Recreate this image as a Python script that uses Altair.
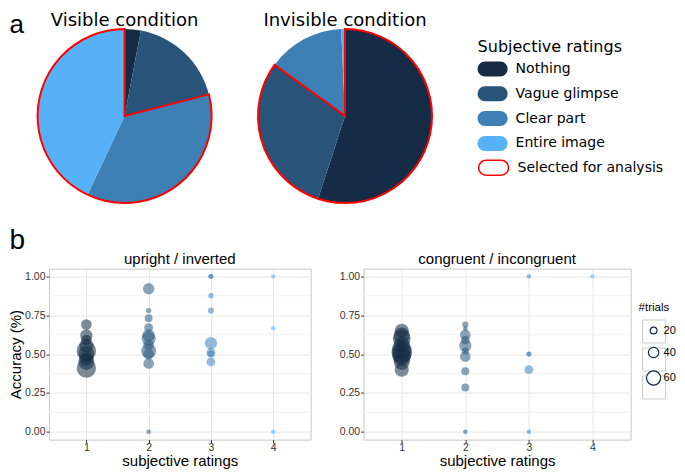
import math
import altair as alt
import pandas as pd

# ---------------- data ----------------
CATEGORIES = ["Nothing", "Vague glimpse", "Clear part", "Entire image"]
CAT_COLORS = ["#162B45", "#285479", "#3E7FB4", "#56B1F7"]
SELECT_LABEL = "Selected for analysis"

VISIBLE_PCT = [3.0, 18.0, 36.0, 43.0]
VISIBLE_SELECTED = [False, False, True, True]
INVISIBLE_PCT = [55.0, 30.0, 14.3, 0.7]
INVISIBLE_SELECTED = [True, True, False, False]

RATING_COLORS = ["#132B43", "#29587F", "#4084BB", "#56B1F7"]
X_TICKS = [1, 2, 3, 4]
Y_TICKS = [0.0, 0.25, 0.5, 0.75, 1.0]
MINOR_Y = [0.125, 0.375, 0.625, 0.875]
SIZE_VALUES = [20, 40, 60]

# upright / inverted
UI_RATING = [1, 1, 1, 1, 1, 1, 1, 1, 1,
             2, 2, 2, 2, 2, 2, 2, 2, 2, 2, 2,
             3, 3, 3, 3, 3, 3, 3, 3,
             4, 4, 4]
UI_ACC = [0.69, 0.62, 0.59, 0.555, 0.52, 0.50, 0.47, 0.45, 0.41,
          0.92, 0.78, 0.73, 0.67, 0.62, 0.60, 0.56, 0.52, 0.50, 0.44, 0.0,
          1.0, 1.0, 0.875, 0.78, 0.57, 0.51, 0.50, 0.45,
          1.0, 0.667, 0.0]
UI_TRIALS = [41, 50, 41, 60, 89, 70, 60, 70, 89,
             45, 13, 27, 32, 50, 60, 41, 65, 41, 41, 7,
             13, 7, 13, 18, 50, 32, 22, 32,
             7, 7, 7]

# congruent / incongruent
CI_RATING = [1, 1, 1, 1, 1, 1, 1, 1, 1, 1,
             2, 2, 2, 2, 2, 2, 2, 2, 2, 2,
             3, 3, 3, 3, 3,
             4]
CI_ACC = [0.65, 0.62, 0.60, 0.56, 0.53, 0.51, 0.50, 0.48, 0.45, 0.40,
          0.69, 0.665, 0.625, 0.59, 0.555, 0.52, 0.485, 0.39, 0.285, 0.0,
          1.0, 0.5, 0.5, 0.40, 0.0,
          1.0]
CI_TRIALS = [60, 70, 80, 70, 89, 95, 89, 80, 70, 60,
             18, 7, 41, 32, 50, 22, 41, 27, 27, 7,
             7, 13, 7, 32, 7,
             7]


def pie_table(pcts, selected):
    total = float(sum(pcts))
    rows, cum = [], 0.0
    for i, (c, p, s) in enumerate(zip(CATEGORIES, pcts, selected)):
        rows.append({"category": c, "order": i, "start": cum / total,
                     "end": (cum + p) / total, "selected": s})
        cum += p
    return pd.DataFrame(rows)


# ---------------- styles / layout ----------------
PILL = ("M-1,-1L1,-1C1.552,-1,2,-0.552,2,0C2,0.552,1.552,1,1,1L-1,1"
        "C-1.552,1,-2,0.552,-2,0C-2,-0.552,-1.552,-1,-1,-1Z")
THETA = alt.Scale(domain=[0, 1], range=[0, 2 * math.pi])
R = 87
PIE_H = 2 * R
PANEL_H = 171
LEFT = -39.5   # left edge of the figure relative to the left panel

fill_legend = alt.Legend(
    title="Subjective ratings", orient="none", legendX=428.6, legendY=10,
    symbolType=PILL, symbolSize=225, symbolStrokeWidth=0, symbolOffset=7.5,
    labelOffset=15.5, rowPadding=9.8, titlePadding=6.5,
    titleFont="DejaVu Sans", titleFontSize=16, titleFontWeight="normal",
    titleColor="#000000", labelFont="DejaVu Sans", labelFontSize=14,
    labelColor="#000000", symbolOpacity=1)

stroke_legend = alt.Legend(
    title=None, orient="none", legendX=428.6, legendY=130.2,
    symbolType=PILL, symbolSize=225, symbolStrokeWidth=1.5,
    symbolFillColor="white", symbolOffset=7.5, labelOffset=15.5,
    labelFont="DejaVu Sans", labelFontSize=14, labelColor="#000000")

size_legend = alt.Legend(
    title="#trials", orient="none", legendX=589.6, legendY=272.5,
    values=SIZE_VALUES, symbolFillColor="white", symbolStrokeColor="#132B43",
    symbolStrokeWidth=1.2, symbolOpacity=1, symbolOffset=7, labelOffset=2,
    titleFont="Liberation Sans", titleFontSize=11.5, titleFontWeight="normal",
    titleColor="#000000", labelFont="Liberation Sans", labelFontSize=11,
    labelColor="#000000", rowPadding=7.5, titlePadding=12, zindex=2)

KEY_BOXES = ["k1", "k2", "k3"]
box_legend = alt.Legend(
    title=None, orient="none", legendX=593.1, legendY=290.5,
    symbolType="square", symbolSize=529, symbolFillColor="white",
    symbolStrokeColor="#cccccc", symbolStrokeWidth=1, symbolOpacity=1,
    labelExpr="''", rowPadding=0, zindex=1)


def text_layer(txt, x, y, size, font, align="left"):
    return alt.Chart(pd.DataFrame({"t": [txt]})).mark_text(
        font=font, fontSize=size, align=align, baseline="alphabetic",
        color="#000000").encode(text="t:N", x=alt.value(x), y=alt.value(y))


def pie_chart(pcts, selected, title, width, cx, letter=None):
    df = pie_table(pcts, selected)
    base = alt.Chart(df)
    slices = base.mark_arc(outerRadius=R).encode(
        theta=alt.Theta("start:Q", scale=THETA),
        theta2="end:Q",
        fill=alt.Fill("category:N",
                      scale=alt.Scale(domain=CATEGORIES, range=CAT_COLORS),
                      legend=fill_legend),
        order=alt.Order("order:Q"),
        x=alt.value(cx), y=alt.value(R))
    outline = (base.transform_filter("datum.selected")
               .transform_aggregate(s="min(start)", e="max(end)")
               .transform_calculate(lab="'%s'" % SELECT_LABEL)
               .mark_arc(outerRadius=R, filled=False, strokeWidth=2)
               .encode(theta=alt.Theta("s:Q", scale=THETA), theta2="e:Q",
                       stroke=alt.Stroke("lab:N",
                                         scale=alt.Scale(domain=[SELECT_LABEL],
                                                         range=["#ff0000"]),
                                         legend=stroke_legend),
                       x=alt.value(cx), y=alt.value(R)))
    layers = [slices, outline,
              text_layer(title, cx, -2.6, 18, "DejaVu Sans", "center")]
    if letter:
        layers.append(text_layer(letter, LEFT, 3.8, 26, "Liberation Sans"))
    return alt.layer(*layers).properties(
        width=width, height=PIE_H,
        view=alt.ViewBackground(stroke="transparent"))


def panel(rating, acc, trials, title, width, ytitle, letter=None, boxes=False):
    df = pd.DataFrame({"rating": rating, "acc": acc, "trials": trials})
    xs = alt.Scale(domain=[0.4, 4.6], nice=False, zero=False)
    ys = alt.Scale(domain=[-0.05, 1.05], nice=False, zero=False)
    yaxis = alt.Axis(values=Y_TICKS, format=".2f", title=ytitle)
    minor = alt.Chart(pd.DataFrame({"y": MINOR_Y})).mark_rule(
        color="#f3f3f3", strokeWidth=1).encode(
        y=alt.Y("y:Q", scale=ys, axis=yaxis))
    pts = alt.Chart(df).mark_circle(opacity=0.55).encode(
        x=alt.X("rating:Q", scale=xs,
                axis=alt.Axis(values=X_TICKS, format="d",
                              title="subjective ratings")),
        y=alt.Y("acc:Q", scale=ys, axis=yaxis),
        color=alt.Color("rating:O",
                        scale=alt.Scale(domain=X_TICKS, range=RATING_COLORS),
                        legend=None),
        size=alt.Size("trials:Q",
                      scale=alt.Scale(type="pow", exponent=1.69,
                                      domain=[0, 60], range=[15, 201]),
                      legend=size_legend))
    layers = [minor, pts,
              text_layer(title, width / 2, -5, 15, "Liberation Sans", "center")]
    if letter:
        layers.append(text_layer(letter, LEFT, -20, 28, "Liberation Sans"))
    if boxes:
        layers.append(alt.Chart(pd.DataFrame({"k": KEY_BOXES})).mark_point(
            opacity=0, size=1).encode(
            shape=alt.Shape("k:N", scale=alt.Scale(domain=KEY_BOXES,
                                                   range=["square"] * 3),
                            legend=box_legend),
            x=alt.value(0), y=alt.value(0)))
    return alt.layer(*layers).properties(width=width, height=PANEL_H)


top = alt.hconcat(
    pie_chart(VISIBLE_PCT, VISIBLE_SELECTED, "Visible condition",
              75.6 + R, 75.6, "a"),
    pie_chart(INVISIBLE_PCT, INVISIBLE_SELECTED, "Invisible condition",
              2 * R, R),
    spacing=36)

bottom = alt.hconcat(
    panel(UI_RATING, UI_ACC, UI_TRIALS, "upright / inverted", 261.6,
          "Accuracy (%)", "b"),
    panel(CI_RATING, CI_ACC, CI_TRIALS, "congruent / incongruent", 267, None,
          boxes=True),
    spacing=26.6)

chart = alt.vconcat(top, bottom, spacing=17.6).properties(
    padding={"top": 3, "left": 0, "right": 0, "bottom": 0}
).configure_axis(
    labelFont="Liberation Sans", titleFont="Liberation Sans",
    labelFontSize=10.5, titleFontSize=15, titleFontWeight="normal",
    labelColor="#333333", titleColor="#000000", tickColor="#333333",
    tickSize=3, domain=False, gridColor="#e6e6e6", labelPadding=1,
    titlePadding=1).configure_axisX(labelPadding=0, titlePadding=0
).configure_view(stroke="#c6c6c6")

chart.save("out.html", embed_options={"renderer": "svg", "actions": False})
